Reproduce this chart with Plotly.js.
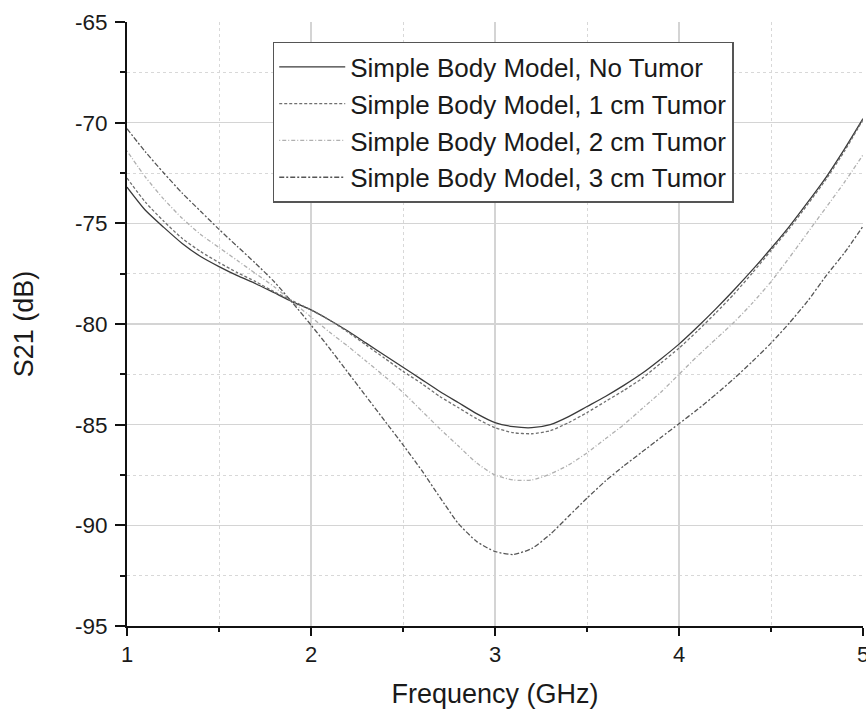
<!DOCTYPE html>
<html>
<head>
<meta charset="utf-8">
<script src="https://cdn.plot.ly/plotly-3.0.1.min.js"></script>
<style>html,body{margin:0;padding:0;background:#fff;}#chart{width:866px;height:713px;}</style>
</head>
<body>
<div id="chart"></div>
<script>
const freq = [1.0,1.1,1.2,1.3,1.4,1.5,1.6,1.7,1.8,1.9,2.0,2.1,2.2,2.3,2.4,2.5,2.6,2.7,2.8,2.9,3.0,3.1,3.2,3.3,3.4,3.5,3.6,3.7,3.8,3.9,4.0,4.1,4.2,4.3,4.4,4.5,4.6,4.7,4.8,4.9,5.0];
const noTumor = [-73.2,-74.35,-75.2,-76.0,-76.65,-77.15,-77.6,-78.0,-78.45,-78.9,-79.3,-79.8,-80.35,-80.95,-81.55,-82.15,-82.75,-83.35,-83.9,-84.45,-84.9,-85.1,-85.15,-85.0,-84.6,-84.1,-83.6,-83.05,-82.45,-81.75,-81.0,-80.15,-79.25,-78.3,-77.3,-76.25,-75.15,-73.95,-72.7,-71.3,-69.8];
const tumor1cm = [-72.75,-73.95,-74.9,-75.75,-76.4,-76.95,-77.45,-77.9,-78.4,-78.85,-79.3,-79.8,-80.4,-81.05,-81.7,-82.35,-82.95,-83.6,-84.15,-84.7,-85.15,-85.4,-85.45,-85.3,-84.9,-84.4,-83.85,-83.3,-82.7,-81.95,-81.2,-80.35,-79.45,-78.5,-77.45,-76.35,-75.25,-74.05,-72.8,-71.4,-69.85];
const tumor2cm = [-71.4,-72.7,-73.8,-74.75,-75.55,-76.2,-76.85,-77.5,-78.15,-78.9,-79.65,-80.4,-81.1,-81.85,-82.6,-83.4,-84.3,-85.2,-86.05,-86.9,-87.5,-87.75,-87.75,-87.45,-87.0,-86.4,-85.7,-85.0,-84.2,-83.4,-82.5,-81.6,-80.75,-79.9,-78.95,-77.9,-76.7,-75.45,-74.2,-72.95,-71.6];
const tumor3cm = [-70.3,-71.45,-72.5,-73.5,-74.4,-75.3,-76.15,-77.0,-77.9,-78.95,-80.05,-81.2,-82.4,-83.6,-84.8,-86.0,-87.25,-88.6,-89.9,-90.8,-91.3,-91.45,-91.15,-90.45,-89.55,-88.65,-87.8,-87.05,-86.35,-85.65,-84.95,-84.25,-83.5,-82.7,-81.85,-80.95,-79.95,-78.85,-77.6,-76.45,-75.15];
const seriesNames = ["Simple Body Model, No Tumor","Simple Body Model, 1 cm Tumor","Simple Body Model, 2 cm Tumor","Simple Body Model, 3 cm Tumor"];
const yTickVals = [-95,-90,-85,-80,-75,-70,-65];
const yTickText = ["-95","-90","-85","-80","-75","-70","-65"];
const xTickVals = [1,2,3,4,5];
const xTickText = ["1","2","3","4","5"];

const FONT = 'Arial, "Liberation Sans", Helvetica, sans-serif';
const styles = [
  {color:'#3a3a3a', width:1.3, dash:'solid'},
  {color:'#707070', width:1.3, dash:'3px,2px'},
  {color:'#b0b0b0', width:1.3, dash:'1px,2px,4px,2px'},
  {color:'#555555', width:1.3, dash:'5px,2px,2px,2px'}
];
const ys = [noTumor, tumor1cm, tumor2cm, tumor3cm];
const data = ys.map((y,i)=>({
  x: freq, y: y, type:'scatter', mode:'lines', name: seriesNames[i],
  line: {color: styles[i].color, width: styles[i].width, dash: styles[i].dash, shape:'spline', smoothing:0.6}
}));

const layout = {
  width: 866, height: 713,
  margin: {l:127, r:3, t:22, b:87},
  paper_bgcolor:'#fff', plot_bgcolor:'#fff',
  font: {family: FONT, color:'#1a1a1a', size:22},
  showlegend: true,
  legend: {
    x: 0.198, y: 0.967, xanchor:'left', yanchor:'top',
    bgcolor:'#fff', bordercolor:'#555', borderwidth:1.5,
    font: {family: FONT, size:26, color:'#1a1a1a'},
    tracegroupgap: 0, itemwidth: 66
  },
  xaxis: {
    range:[1,5], tickmode:'array', tickvals:xTickVals, ticktext:xTickText,
    showline:true, linecolor:'#111', linewidth:2, mirror:false,
    ticks:'outside', ticklen:8, tickwidth:2, tickcolor:'#111',
    showgrid:true, gridcolor:'#d4d4d4', gridwidth:1.5,
    zeroline:false, ticklabeloverflow:'allow',
    tickfont:{family:FONT, size:22, color:'#1a1a1a'},
    minor:{tickmode:'linear', tick0:1, dtick:0.5, showgrid:true, gridcolor:'#d8d8d8', griddash:'dot', gridwidth:1, ticks:'outside', ticklen:4, tickwidth:2, tickcolor:'#111'},
    title:{text:'Frequency (GHz)', font:{family:FONT, size:27, color:'#1a1a1a'}, standoff:18}
  },
  yaxis: {
    range:[-95,-65], tickmode:'array', tickvals:yTickVals, ticktext:yTickText,
    showline:true, linecolor:'#111', linewidth:2, mirror:false,
    ticks:'outside', ticklen:10, tickwidth:2, tickcolor:'#111',
    showgrid:true, gridcolor:'#d4d4d4', gridwidth:1.5,
    zeroline:false, ticklabelstandoff:3,
    tickfont:{family:FONT, size:22.5, color:'#1a1a1a'},
    minor:{tickmode:'linear', tick0:-95, dtick:2.5, showgrid:true, gridcolor:'#d8d8d8', griddash:'dot', gridwidth:1, ticks:'outside', ticklen:5, tickwidth:2, tickcolor:'#111'},
    title:{text:'S21 (dB)', font:{family:FONT, size:27, color:'#1a1a1a'}, standoff:34}
  }
};
Plotly.newPlot('chart', data, layout, {displayModeBar:false, staticPlot:true});
</script>
</body>
</html>
